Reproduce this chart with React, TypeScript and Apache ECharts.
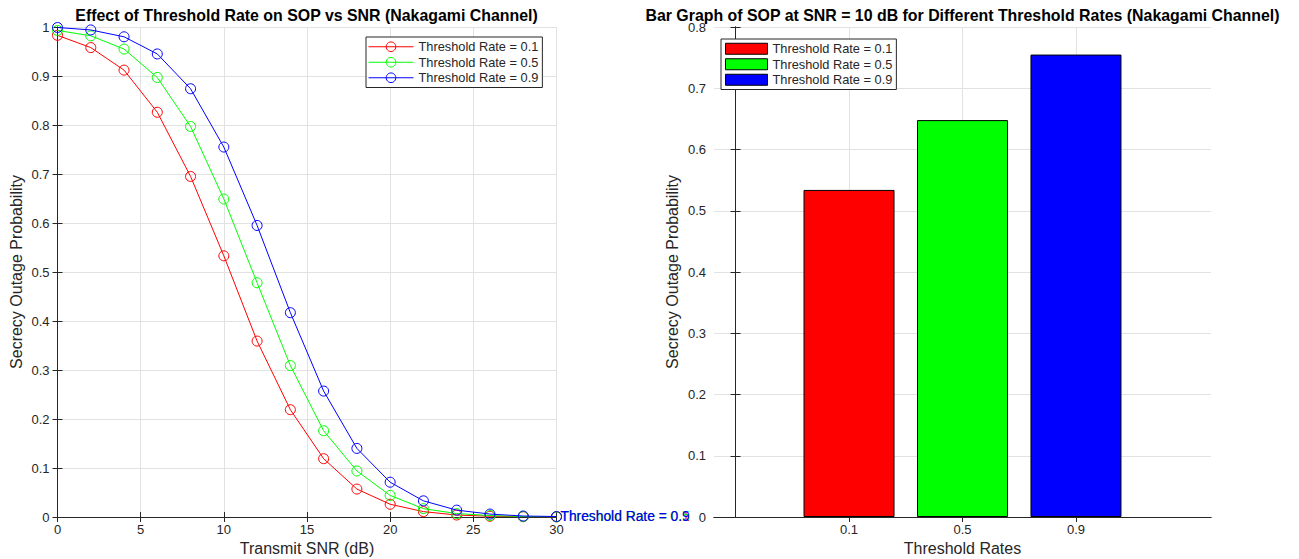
import React, { useEffect, useRef } from "react";
import * as echarts from "echarts";

// ---------- data ----------
const snrDb = [0, 2, 4, 6, 8, 10, 12, 14, 16, 18, 20, 22, 24, 26, 28, 30];
const sopRate01 = [0.983, 0.958, 0.912, 0.826, 0.695, 0.533, 0.359, 0.219, 0.119, 0.057, 0.026, 0.011, 0.004, 0.0015, 0.0006, 0.0002];
const sopRate05 = [0.993, 0.982, 0.955, 0.897, 0.797, 0.649, 0.478, 0.309, 0.176, 0.094, 0.044, 0.017, 0.007, 0.003, 0.001, 0.0004];
const sopRate09 = [0.999, 0.994, 0.980, 0.945, 0.874, 0.755, 0.595, 0.417, 0.257, 0.140, 0.071, 0.033, 0.014, 0.006, 0.002, 0.001];
const thresholdRates = ["0.1", "0.5", "0.9"];
const barSop = [0.534, 0.648, 0.755];
const seriesNames = ["Threshold Rate = 0.1", "Threshold Rate = 0.5", "Threshold Rate = 0.9"];
const colors = ["#ff0000", "#00ff00", "#0000ff"];

const FONT = "'Liberation Sans', Arial, Helvetica, sans-serif";
const AXIS = "#262626";
const GRIDC = "#e2e2e2";
const BAR_PREFIX = "bar|";

function fmtTick(v: number) {
  const r = Math.round(v * 10) / 10;
  return r === 0 ? "0" : String(r);
}

export default function App() {
  const ref = useRef<HTMLDivElement>(null);

  useEffect(() => {
    if (!ref.current) return;
    const chart = echarts.init(ref.current, undefined, { renderer: "svg" });

    const tickLabel = { color: AXIS, fontSize: 13, fontFamily: FONT };
    const axisLine = { show: true, lineStyle: { color: AXIS, width: 1 } };
    const tickIn = { show: true, inside: true, length: 5, lineStyle: { color: AXIS } };
    const split = { show: true, lineStyle: { color: GRIDC, width: 1 } };
    const nameStyle = { color: AXIS, fontSize: 16, fontFamily: FONT };

    const curves = [sopRate01, sopRate05, sopRate09];

    const lineSeries = curves.map((vals, i) => ({
      type: "line",
      name: seriesNames[i],
      xAxisIndex: 0,
      yAxisIndex: 0,
      data: snrDb.map((x, k) => [x, vals[k]]),
      symbol: "circle",
      symbolSize: 10,
      lineStyle: { color: colors[i], width: 1 },
      itemStyle: { color: "rgba(255,255,255,0)", borderColor: colors[i], borderWidth: 1 },
      endLabel: {
        show: true,
        formatter: seriesNames[i],
        color: colors[i],
        fontSize: 13.8,
        fontFamily: FONT,
        distance: 4,
      },
      z: 3 + i,
    }));

    const barSeries = barSop.map((v, i) => ({
      type: "bar",
      name: BAR_PREFIX + seriesNames[i],
      xAxisIndex: 2,
      yAxisIndex: 2,
      data: [[i + 1, v]],
      barWidth: 91,
      barGap: "-100%",
      itemStyle: { color: colors[i], borderColor: "#000", borderWidth: 1 },
    }));

    const titleStyle = { fontSize: 15.9, fontWeight: "bold", color: "#000", fontFamily: FONT };

    const option: any = {
      animation: false,
      backgroundColor: "#fff",
      title: [
        {
          text: "Effect of Threshold Rate on SOP vs SNR (Nakagami Channel)",
          left: 306.5,
          top: 7,
          padding: 0,
          textAlign: "center",
          textStyle: titleStyle,
        },
        {
          text: "Bar Graph of SOP at SNR = 10 dB for Different Threshold Rates (Nakagami Channel)",
          left: 962.5,
          top: 7,
          padding: 0,
          textAlign: "center",
          textStyle: titleStyle,
        },
      ],
      legend: [
        {
          orient: "vertical",
          left: 366,
          top: 37,
          data: seriesNames,
          itemWidth: 45,
          itemHeight: 12,
          itemGap: 0,
          padding: [2, 4, 2, 2],
          backgroundColor: "#fff",
          borderColor: AXIS,
          borderWidth: 1,
          borderRadius: 0,
          selectedMode: false,
          textStyle: { fontSize: 12.8, color: AXIS, lineHeight: 15.5, fontFamily: FONT },
          itemStyle: { borderWidth: 1 },
          lineStyle: { width: 1 },
        },
        {
          orient: "vertical",
          left: 721,
          top: 39,
          data: seriesNames.map((n) => BAR_PREFIX + n),
          formatter: (n: string) => n.replace(BAR_PREFIX, ""),
          icon: "rect",
          itemWidth: 42,
          itemHeight: 11,
          itemGap: 0,
          padding: [2, 4, 2, 4],
          backgroundColor: "#fff",
          borderColor: AXIS,
          borderWidth: 1,
          borderRadius: 0,
          selectedMode: false,
          textStyle: { fontSize: 12.8, color: AXIS, lineHeight: 15.5, fontFamily: FONT },
          itemStyle: { borderColor: "#000", borderWidth: 1 },
        },
      ],
      grid: [
        { left: 57.5, top: 27, width: 499, height: 490, containLabel: false, outerBoundsMode: "none" },
        { left: 714, top: 27, width: 497, height: 490, containLabel: false, outerBoundsMode: "none" },
      ],
      xAxis: [
        {
          type: "value",
          gridIndex: 0,
          position: "bottom",
          min: 0,
          max: 30,
          interval: 5,
          name: "Transmit SNR (dB)",
          nameLocation: "middle",
          nameGap: 23,
          nameTextStyle: nameStyle,
          axisLine,
          axisTick: tickIn,
          axisLabel: { ...tickLabel, margin: 6 },
          splitLine: split,
        },
        {
          type: "value",
          gridIndex: 0,
          position: "top",
          min: 0,
          max: 30,
          interval: 5,
          axisLine,
          axisTick: tickIn,
          axisLabel: { show: false },
          splitLine: { show: false },
        },
        {
          type: "value",
          gridIndex: 1,
          position: "bottom",
          min: -0.19,
          max: 4.19,
          name: "Threshold Rates",
          nameLocation: "middle",
          nameGap: 23,
          nameTextStyle: nameStyle,
          axisLine,
          axisTick: { ...tickIn, customValues: [1, 2, 3] },
          axisLabel: {
            ...tickLabel,
            margin: 6,
            customValues: [1, 2, 3],
            formatter: (v: number) => thresholdRates[Math.round(v) - 1] ?? "",
          },
          splitLine: split,
        },
        {
          type: "value",
          gridIndex: 1,
          position: "top",
          min: -0.19,
          max: 4.19,
          axisLine,
          axisTick: { ...tickIn, customValues: [1, 2, 3] },
          axisLabel: { show: false },
          splitLine: { show: false },
        },
      ],
      yAxis: [
        {
          type: "value",
          gridIndex: 0,
          position: "left",
          min: 0,
          max: 1,
          interval: 0.1,
          name: "Secrecy Outage Probability",
          nameLocation: "middle",
          nameGap: 33,
          nameTextStyle: nameStyle,
          axisLine,
          axisTick: tickIn,
          axisLabel: { ...tickLabel, margin: 8, formatter: fmtTick },
          splitLine: split,
        },
        {
          type: "value",
          gridIndex: 0,
          position: "right",
          min: 0,
          max: 1,
          interval: 0.1,
          axisLine,
          axisTick: tickIn,
          axisLabel: { show: false },
          splitLine: { show: false },
        },
        {
          type: "value",
          gridIndex: 1,
          position: "left",
          min: 0,
          max: 0.8,
          interval: 0.1,
          name: "Secrecy Outage Probability",
          nameLocation: "middle",
          nameGap: 34,
          nameTextStyle: nameStyle,
          axisLine,
          axisTick: tickIn,
          axisLabel: { ...tickLabel, margin: 8, formatter: fmtTick },
          splitLine: split,
        },
        {
          type: "value",
          gridIndex: 1,
          position: "right",
          min: 0,
          max: 0.8,
          interval: 0.1,
          axisLine,
          axisTick: tickIn,
          axisLabel: { show: false },
          splitLine: { show: false },
        },
      ],
      series: [...lineSeries, ...barSeries],
    };

    chart.setOption(option);
    return () => chart.dispose();
  }, []);

  return (
    <div
      ref={ref}
      style={{ position: "absolute", left: 0, top: 0, width: 1299, height: 559 }}
    />
  );
}
